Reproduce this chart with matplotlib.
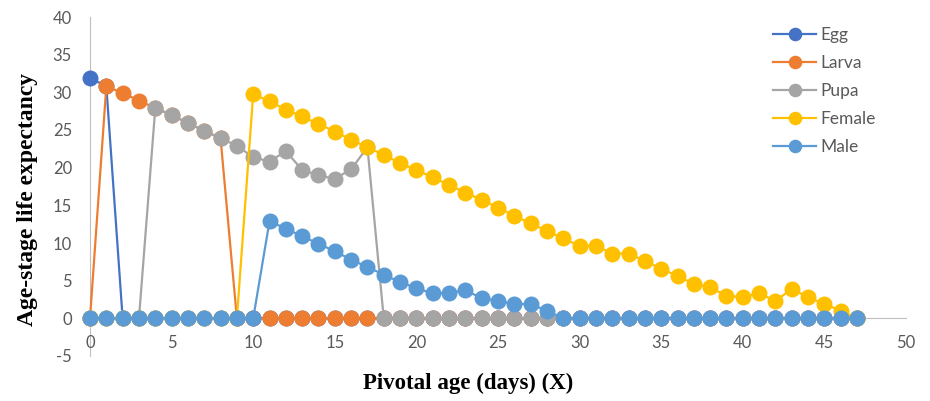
import numpy as np
import matplotlib.pyplot as plt

# pivotal age (days)
days = np.arange(48)

# age-stage life expectancy per stage, one value per day (0..47)
egg = [31.9, 30.8] + [0] * 46
larva = [0, 30.8, 29.9, 28.9, 27.9, 27.0, 25.9, 24.9, 23.9] + [0] * 39
pupa = ([0, 0, 0, 0, 27.9, 27.0, 25.9, 24.9, 23.9, 22.9, 21.4, 20.8,
         22.2, 19.7, 19.0, 18.5, 19.8, 22.7] + [0] * 30)
female = ([0] * 10 +
          [29.8, 28.8, 27.7, 26.8, 25.8, 24.8, 23.7, 22.7, 21.7, 20.6,
           19.7, 18.7, 17.7, 16.7, 15.7, 14.7, 13.6, 12.6, 11.6, 10.6,
           9.6, 9.6, 8.6, 8.6, 7.6, 6.6, 5.6, 4.6, 4.1, 3.0,
           2.8, 3.3, 2.3, 3.9, 2.8, 1.9, 1.0, 0])
male = ([0] * 11 +
        [12.9, 11.9, 10.9, 9.9, 8.9, 7.8, 6.8, 5.8, 4.8, 4.0,
         3.3, 3.4, 3.7, 2.7, 2.3, 1.9, 1.9, 1.0] + [0] * 19)

stages = ["Egg", "Larva", "Pupa", "Female", "Male"]
series = [egg, larva, pupa, female, male]
colors = ["#4472C4", "#ED7D31", "#A5A5A5", "#FFC000", "#5B9BD5"]

plt.rcParams['font.family'] = ['Lato', 'DejaVu Sans']
plt.rcParams['axes.unicode_minus'] = False

fig = plt.figure(figsize=(9.3, 4.01), dpi=100)
ax = fig.add_axes([90 / 930, 45 / 401, 816 / 930, 339 / 401])

for i, (name, vals, c) in enumerate(zip(stages, series, colors)):
    ax.plot(days, vals, color=c, lw=1.6, marker='o', markersize=11.5,
            markeredgewidth=0, label=name, zorder=3 + i, clip_on=False)

ax.set_xlim(0, 50)
ax.set_ylim(-5, 40)
ax.set_xticks(np.arange(0, 51, 5))
ax.set_yticks(np.arange(-5, 41, 5))

axis_gray = "#BFBFBF"
for s in ["top", "right"]:
    ax.spines[s].set_visible(False)
ax.spines["bottom"].set_position(("data", 0))
ax.spines["bottom"].set_color(axis_gray)
ax.spines["left"].set_color(axis_gray)
ax.spines["bottom"].set_zorder(1)
ax.spines["left"].set_zorder(1)
ax.tick_params(length=0, labelsize=12, labelcolor="#595959")
ax.tick_params(axis='x', pad=12)
ax.tick_params(axis='y', pad=13)

fig.text(468 / 930, 1 - 383 / 401, "Pivotal age (days) (X)",
         family="Liberation Serif", fontweight="bold", fontsize=16.5,
         ha="center", va="center")
fig.text(27 / 930, 1 - 199 / 401, "Age-stage life expectancy",
         family="Liberation Serif", fontweight="bold", fontsize=17,
         ha="center", va="center", rotation=90)

fig.legend(loc="upper left", bbox_to_anchor=(773 / 930, 1 - 27 / 401),
           frameon=False, borderpad=0, borderaxespad=0, fontsize=12.5,
           handlelength=2.5, handletextpad=0.2, labelspacing=0.69,
           markerscale=0.85, labelcolor="#595959")

fig.savefig("out.png", dpi=100)
